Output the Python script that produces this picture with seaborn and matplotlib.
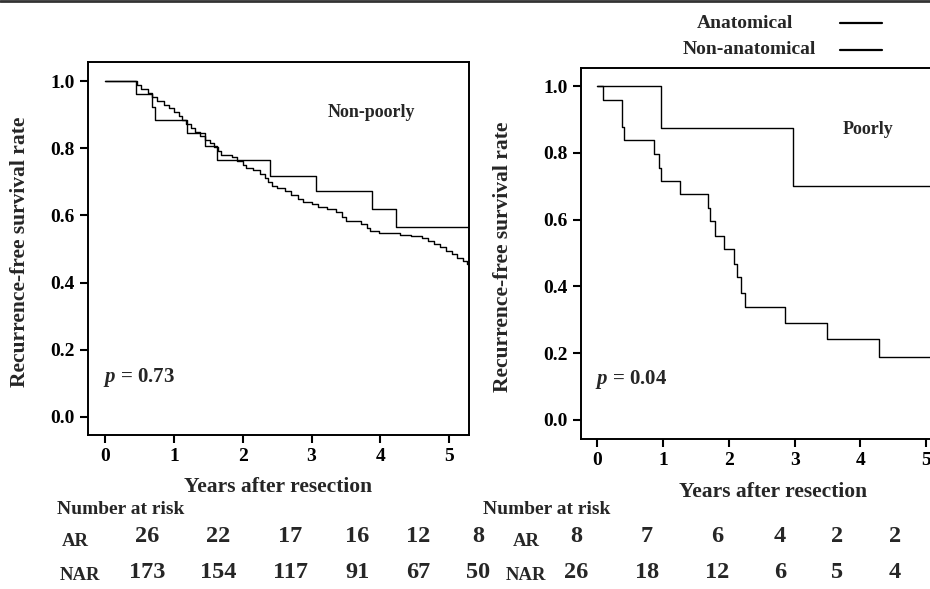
import matplotlib
matplotlib.use("Agg")
import matplotlib.pyplot as plt
from matplotlib.lines import Line2D
import seaborn as sns
import pandas as pd

################### Data ######################################################
# Non-poorly group, Kaplan-Meier steps
np_ar_time = [0, 0.45, 0.68, 0.72, 1.19, 1.45, 1.62, 2.39, 3.07, 3.88, 4.23, 5.29]
np_ar_surv = [1.0, 0.962, 0.923, 0.885, 0.846, 0.808, 0.765, 0.716, 0.672, 0.620, 0.567, 0.567]

np_nar_time = [0, 0.46, 0.52, 0.62, 0.68, 0.75, 0.85, 0.93, 1.00, 1.07, 1.12, 1.18,
               1.25, 1.30, 1.38, 1.45, 1.52, 1.58, 1.64, 1.68, 1.85, 1.92, 2.00,
               2.05, 2.15, 2.25, 2.32, 2.37, 2.42, 2.50, 2.62, 2.70, 2.80, 2.88,
               3.00, 3.10, 3.22, 3.35, 3.45, 3.50, 3.72, 3.80, 3.85, 3.98, 4.28,
               4.45, 4.60, 4.70, 4.78, 4.87, 4.95, 5.05, 5.12, 5.20, 5.26, 5.29]
np_nar_surv = [1.0, 0.988, 0.976, 0.965, 0.953, 0.942, 0.930, 0.919, 0.907, 0.896,
               0.884, 0.872, 0.861, 0.849, 0.838, 0.826, 0.815, 0.803, 0.792, 0.780,
               0.773, 0.762, 0.750, 0.742, 0.735, 0.724, 0.712, 0.700, 0.688, 0.681,
               0.672, 0.661, 0.650, 0.641, 0.633, 0.625, 0.619, 0.611, 0.596, 0.582,
               0.575, 0.563, 0.553, 0.549, 0.543, 0.538, 0.532, 0.524, 0.516, 0.506,
               0.495, 0.484, 0.474, 0.465, 0.456, 0.456]

# Poorly group
p_ar_time = [0, 0.97, 2.98, 5.2]
p_ar_surv = [1.0, 0.875, 0.700, 0.700]

p_nar_time = [0, 0.09, 0.38, 0.41, 0.86, 0.94, 0.97, 1.25, 1.68, 1.71, 1.79, 1.93,
              2.08, 2.13, 2.19, 2.25, 2.85, 3.49, 4.29, 5.2]
p_nar_surv = [1.0, 0.958, 0.878, 0.838, 0.797, 0.755, 0.716, 0.678, 0.636, 0.595,
              0.552, 0.513, 0.468, 0.427, 0.380, 0.338, 0.289, 0.241, 0.190, 0.190]

# Number at risk
np_ar_risk = [26, 22, 17, 16, 12, 8]
np_nar_risk = [173, 154, 117, 91, 67, 50]
p_ar_risk = [8, 7, 6, 4, 2, 2]
p_nar_risk = [26, 18, 12, 6, 5, 4]

p_values = ["0.73", "0.04"]
group_names = ["Non-poorly", "Poorly"]

################### Setup #####################################################
sns.set_style("ticks")
plt.rcParams['font.family'] = ['Liberation Serif', 'DejaVu Serif']
plt.rcParams['font.weight'] = 'bold'
plt.rcParams['axes.labelweight'] = 'bold'
plt.rcParams['mathtext.fontset'] = 'custom'
plt.rcParams['mathtext.rm'] = 'Liberation Serif:bold'
plt.rcParams['mathtext.it'] = 'Liberation Serif:italic:bold'

W, H = 930, 589
fig = plt.figure(figsize=(W / 100, H / 100), dpi=100)


def fx(px):
    return px / W


def fy(py):
    return 1 - py / H


def km_frame(t, s):
    return pd.DataFrame({'time': t, 'surv': s})


def draw_panel(ax, ar_t, ar_s, nar_t, nar_s, xlim, ylim):
    for t, s in [(ar_t, ar_s), (nar_t, nar_s)]:
        sns.lineplot(data=km_frame(t, s), x='time', y='surv', ax=ax,
                     color='black', linewidth=1.0, drawstyle='steps-post',
                     estimator=None, sort=False)
    ax.set_xlim(*xlim)
    ax.set_ylim(*ylim)
    ax.set_xticks([0, 1, 2, 3, 4, 5])
    ax.set_yticks([0.0, 0.2, 0.4, 0.6, 0.8, 1.0])
    ax.set_yticklabels(['0.0', '0.2', '0.4', '0.6', '0.8', '1.0'])
    ax.tick_params(direction='out', length=6, width=1.5, labelsize=14,
                   colors='black')
    for lab in ax.get_xticklabels() + ax.get_yticklabels():
        lab.set_fontweight('bold')
    for sp in ax.spines.values():
        sp.set_linewidth(1.4)
        sp.set_color('black')
    ax.set_xlabel('Years after resection', fontsize=15.5, fontweight='bold')
    ax.set_ylabel('Recurrence-free survival rate', fontsize=15.5,
                  fontweight='bold')


# Left panel
ax1 = fig.add_axes([fx(88), fy(435), fx(469 - 88), (435 - 62) / H])
draw_panel(ax1, np_ar_time, np_ar_surv, np_nar_time, np_nar_surv,
           (-0.25, 5.29), (-0.054, 1.057))
ax1.xaxis.set_label_coords(0.5, -0.113)
ax1.yaxis.set_label_coords(-0.152, 0.49)
ax1.text(0.745, 0.865, group_names[0], transform=ax1.transAxes, ha='center',
         va='center', fontsize=13)
ax1.text(0.04, 0.155, r'$p$ = ' + p_values[0], transform=ax1.transAxes,
         ha='left', va='center', fontsize=15)

# Right panel (cut at the right edge)
ax2 = fig.add_axes([fx(581), fy(439), fx(W - 581) + 0.01, (439 - 68) / H])
draw_panel(ax2, p_ar_time, p_ar_surv, p_nar_time, p_nar_surv,
           (-0.25, 5.2), (-0.057, 1.054))
ax2.spines['right'].set_visible(False)
ax2.xaxis.set_label_coords(0.535, -0.116)
ax2.yaxis.set_label_coords(-0.189, 0.49)
ax2.text(0.80, 0.835, group_names[1], transform=ax2.transAxes, ha='center',
         va='center', fontsize=13)
ax2.text(0.04, 0.16, r'$p$ = ' + p_values[1], transform=ax2.transAxes,
         ha='left', va='center', fontsize=15)

# Legend drawn in figure coordinates
fig.text(fx(745), fy(23), 'Anatomical', ha='center', va='center', fontsize=14)
fig.text(fx(749), fy(50), 'Non-anatomical', ha='center', va='center',
         fontsize=14)
for py in [23, 50]:
    fig.add_artist(Line2D([fx(840), fx(882)], [fy(py), fy(py)], color='black',
                          linewidth=1.6))

# Top scan border
fig.add_artist(Line2D([0, 1], [fy(1), fy(1)], color='#333333', linewidth=2))

# Number at risk tables
left_cols = [147, 218, 290, 357, 418, 478]
right_cols = [576, 647, 717, 780, 837, 895]
fig.text(fx(57), fy(510), 'Number at risk', ha='left', va='center',
         fontsize=14)
fig.text(fx(483), fy(510), 'Number at risk', ha='left', va='center',
         fontsize=14)
fig.text(fx(62), fy(542), 'AR', ha='left', va='center', fontsize=13.5)
fig.text(fx(60), fy(575), 'NAR', ha='left', va='center', fontsize=13.5)
fig.text(fx(513), fy(542), 'AR', ha='left', va='center', fontsize=13.5)
fig.text(fx(506), fy(575), 'NAR', ha='left', va='center', fontsize=13.5)
for cols, ar, nar in [(left_cols, np_ar_risk, np_nar_risk),
                      (right_cols, p_ar_risk, p_nar_risk)]:
    for x, a, n in zip(cols, ar, nar):
        fig.text(fx(x), fy(536), str(a), ha='center', va='center', fontsize=17.5)
        fig.text(fx(x), fy(573), str(n), ha='center', va='center', fontsize=17.5)

plt.savefig('out.png', dpi=100)
plt.close()
